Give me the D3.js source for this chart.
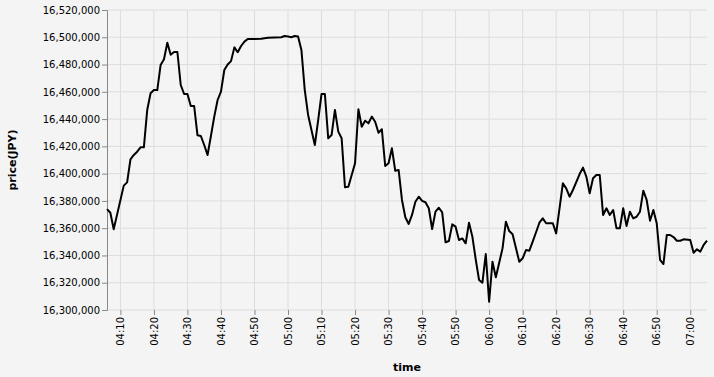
<!DOCTYPE html>
<html>
<head>
<meta charset="utf-8">
<script src="https://cdn.jsdelivr.net/npm/d3@7"></script>
<style>
  body { margin: 0; background: #f4f4f4; }
  svg { display: block; font-family: "DejaVu Sans", sans-serif; }
</style>
</head>
<body>
<div id="line"></div>
<script>
let times = [
  "04:06","04:07","04:08","04:11","04:12","04:13","04:14","04:15","04:16","04:17",
  "04:18","04:19","04:20","04:21","04:22","04:23","04:24","04:25","04:26","04:27",
  "04:28","04:29","04:30","04:31","04:32","04:33","04:34","04:35","04:36","04:37",
  "04:38","04:39","04:40","04:41","04:42","04:43","04:44","04:45","04:46","04:47",
  "04:48","04:50","04:52","04:54","04:56","04:58","04:59","05:00","05:01","05:02",
  "05:03","05:04","05:05","05:06","05:07","05:08","05:09","05:10","05:11","05:12",
  "05:13","05:14","05:15","05:16","05:17","05:18","05:20","05:21","05:22","05:23",
  "05:24","05:25","05:26","05:27","05:28","05:29","05:30","05:31","05:32","05:33",
  "05:34","05:35","05:36","05:37","05:38","05:39","05:40","05:41","05:42","05:43",
  "05:44","05:45","05:46","05:47","05:48","05:49","05:50","05:51","05:52","05:53",
  "05:54","05:55","05:56","05:57","05:58","05:59","06:00","06:01","06:02","06:04",
  "06:05","06:06","06:07","06:09","06:10","06:11","06:12","06:13","06:14","06:15",
  "06:16","06:17","06:19","06:20","06:22","06:23","06:24","06:25","06:27","06:28",
  "06:29","06:30","06:31","06:32","06:33","06:34","06:35","06:36","06:37","06:38",
  "06:39","06:40","06:41","06:42","06:43","06:44","06:45","06:46","06:47","06:48",
  "06:49","06:50","06:51","06:52","06:53","06:54","06:55","06:56","06:57","06:58",
  "07:00","07:01","07:02","07:03","07:04","07:05"
];

let prices = [
  16374000,16371300,16359200,16391200,16393600,16410500,16413700,16416100,16419300,16419300,
  16446700,16458900,16461300,16461300,16479700,16483900,16496000,16487200,16489200,16489200,
  16465000,16458400,16458400,16449600,16449600,16428100,16427600,16421000,16413700,16427600,
  16441800,16454000,16460100,16476000,16480000,16482500,16492600,16489000,16493600,16496800,
  16498700,16498800,16499000,16499700,16499900,16500000,16500900,16500500,16500000,16500900,
  16500500,16490700,16461300,16443000,16432000,16421000,16439300,16458400,16458400,16425900,
  16428300,16446700,16430800,16425900,16390000,16390400,16407600,16447200,16434400,16438800,
  16436900,16441800,16438100,16430000,16432500,16405600,16407600,16418600,16402100,16402700,
  16380700,16368000,16363100,16369700,16379400,16383100,16380000,16379000,16374600,16359400,
  16372100,16375000,16371600,16349600,16350600,16362800,16361100,16351300,16352500,16348900,
  16364000,16353800,16337200,16322000,16320000,16341000,16306100,16335400,16324000,16345200,
  16364800,16357900,16355500,16335400,16337900,16344000,16343500,16350100,16357000,16364000,
  16367200,16363600,16363600,16356200,16392900,16389200,16383100,16388000,16399700,16404400,
  16397800,16385600,16396600,16399000,16399000,16369700,16374600,16369700,16373300,16359900,
  16359900,16374600,16361600,16372100,16367200,16368400,16372100,16387500,16380700,16365500,
  16373300,16363600,16336700,16333700,16355000,16355000,16353500,16350800,16350800,16351800,
  16351300,16342000,16344500,16342800,16347700,16350800
];

let xTickLabels = [
  "04:10","04:20","04:30","04:40","04:50","05:00","05:10","05:20","05:30",
  "05:40","05:50","06:00","06:10","06:20","06:30","06:40","06:50","07:00"
];

let yTickValues = [
  16300000,16320000,16340000,16360000,16380000,16400000,
  16420000,16440000,16460000,16480000,16500000,16520000
];

let margin = {
  top:    10,
  right:  7,
  bottom: 67,
  left:   107
};

let exteriorWidth  = 714,
    exteriorHeight = 377;

let interiorWidth  = exteriorWidth - margin.left - margin.right,
    interiorHeight = exteriorHeight - margin.top - margin.bottom;

let parseTime = d3.timeParse("%H:%M");

let data = times.map(function(t, i) {
  return {time: parseTime(t), price: prices[i]};
});

let root =
  d3.select("#line")
    .append("svg")
      .attr("width", exteriorWidth)
      .attr("height", exteriorHeight);

let svg = root.append("g")
    .attr("transform", translate(margin.left, margin.top));

let x = d3.scaleTime()
    .domain([parseTime("04:06"), parseTime("07:05")])
    .range([0, interiorWidth]);

let y = d3.scaleLinear()
    .domain([yTickValues[0], yTickValues[yTickValues.length - 1]])
    .range([interiorHeight, 0]);

let xTicks = xTickLabels.map(parseTime);

// grid
svg.append("g")
    .selectAll("line")
    .data(xTicks)
    .enter()
    .append("line")
      .attr("x1", function(d) { return x(d); })
      .attr("x2", function(d) { return x(d); })
      .attr("y1", 0)
      .attr("y2", interiorHeight)
      .attr("stroke", "#ddd");

svg.append("g")
    .selectAll("line")
    .data(yTickValues)
    .enter()
    .append("line")
      .attr("x1", 0)
      .attr("x2", interiorWidth)
      .attr("y1", function(d) { return y(d); })
      .attr("y2", function(d) { return y(d); })
      .attr("stroke", "#ddd");

let fmt = d3.format(",");

let yAxis = svg.append("g")
    .call(d3.axisLeft(y)
      .tickValues(yTickValues)
      .tickFormat(fmt)
      .tickSize(5)
      .tickPadding(2));

yAxis.select(".domain").attr("stroke", "#888");
yAxis.selectAll(".tick line").attr("stroke", "#888");
yAxis.selectAll(".tick text")
    .attr("fill", "#000")
    .style("font-size", "10px")
    .style("font-family", "DejaVu Sans, sans-serif");

let xAxis = svg.append("g")
    .attr("transform", translate(0, interiorHeight))
    .call(d3.axisBottom(x)
      .tickValues(xTicks)
      .tickFormat(d3.timeFormat("%H:%M"))
      .tickSize(5)
      .tickPadding(2));

xAxis.select(".domain").remove();
xAxis.selectAll(".tick line").attr("stroke", "#888");
xAxis.selectAll(".tick text")
    .attr("fill", "#000")
    .style("font-size", "10px")
    .style("font-family", "DejaVu Sans, sans-serif")
    .attr("transform", "rotate(-90)")
    .attr("text-anchor", "end")
    .attr("x", -7)
    .attr("y", 0)
    .attr("dy", "0.32em");

let line = d3.line()
    .x(function(d) { return x(d.time); })
    .y(function(d) { return y(d.price); });

svg.append("path")
    .datum(data)
    .attr("d", line)
    .attr("fill", "none")
    .attr("stroke", "#000")
    .attr("stroke-width", 2)
    .attr("stroke-linejoin", "round");

// axis titles
root.append("text")
    .attr("x", margin.left + interiorWidth / 2)
    .attr("y", 371)
    .attr("text-anchor", "middle")
    .style("font-size", "11px")
    .style("font-weight", "bold")
    .text("time");

root.append("text")
    .attr("transform", translate(16, margin.top + interiorHeight / 2) + " rotate(-90)")
    .attr("text-anchor", "middle")
    .style("font-size", "11px")
    .style("font-weight", "bold")
    .text("price(JPY)");

function translate(x, y=0) {
  return "translate({x}, {y})"
          .replace("{x}", x)
          .replace("{y}", y);
}
</script>
</body>
</html>
